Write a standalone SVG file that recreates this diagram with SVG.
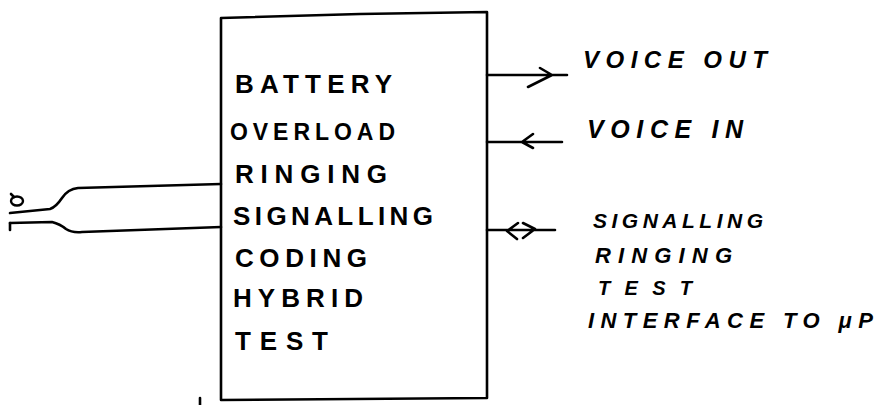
<svg xmlns="http://www.w3.org/2000/svg" width="876" height="405" viewBox="0 0 876 405">
<style>
.ln{fill:none;stroke:#000;stroke-width:2.6;stroke-linecap:round;stroke-linejoin:round}
.t{font-family:"Liberation Sans",Arial,sans-serif;fill:#000;font-weight:bold}
.b{font-size:26px}
.r{font-size:23px;font-style:italic}
</style>
<rect width="876" height="405" fill="#fff"/>
<g id="line-card">
<path class="ln" d="M221 18 L360 14 L487 12 L487 398 L221 400 Z"/>
<text class="t b" x="235" y="93" textLength="157" lengthAdjust="spacing">BATTERY</text>
<text class="t b" x="230" y="140" style="font-size:23px" textLength="165" lengthAdjust="spacing">OVERLOAD</text>
<text class="t b" x="235" y="183" textLength="152" lengthAdjust="spacing">RINGING</text>
<text class="t b" x="233" y="225" textLength="200" lengthAdjust="spacing">SIGNALLING</text>
<text class="t b" x="235" y="267" textLength="132" lengthAdjust="spacing">CODING</text>
<text class="t b" x="233" y="307" textLength="130" lengthAdjust="spacing">HYBRID</text>
<text class="t b" x="235" y="350" textLength="93" lengthAdjust="spacing">TEST</text>
</g>
<g id="subscriber-line">
<ellipse cx="17" cy="201" rx="6" ry="4.5" fill="none" stroke="#000" stroke-width="2.4"/>
<path class="ln" d="M11 194 L14 197"/>
</g>
<g id="labels">
<text class="t r" x="583" y="68" style="font-size:24px" textLength="184" lengthAdjust="spacing">VOICE OUT</text>
<text class="t r" x="587" y="138" style="font-size:25px" textLength="156" lengthAdjust="spacing">VOICE IN</text>
<text class="t r" x="593" y="228" style="font-size:21px" textLength="170" lengthAdjust="spacing">SIGNALLING</text>
<text class="t r" x="595" y="263" style="font-size:22px" textLength="137" lengthAdjust="spacing">RINGING</text>
<text class="t r" x="598" y="295" style="font-size:20px" textLength="94" lengthAdjust="spacing">TEST</text>
<text class="t r" x="588" y="328" style="font-size:22px" textLength="285" lengthAdjust="spacing">INTERFACE TO μP</text>
</g>
<g id="connectors">
<path class="ln" d="M10 213 L50 209 Q56 207 62 198 Q68 189 78 188 L221 184"/>
<path class="ln" d="M10 223 L52 222 Q60 224 66 229 Q72 233 82 232 L221 227"/>
<path class="ln" d="M10 223 L10 230"/>
<path class="ln" d="M200 398 L200 405"/>
<path class="ln" d="M487 75 L567 75 M540 68 L552 75 L528 87"/>
<path class="ln" d="M487 142 L562 142 M533 134 L522 142 L533 148"/>
<path class="ln" d="M487 230 L555 230 M518 223 L507 231 L517 239 M523 223 L535 229 L523 238"/>
</g>
</svg>
